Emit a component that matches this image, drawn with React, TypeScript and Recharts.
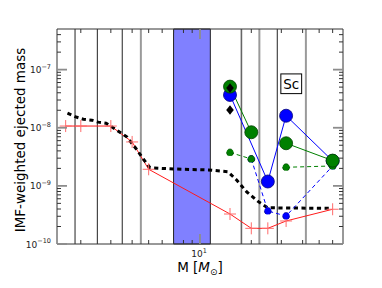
import React from "react";
import {
  ComposedChart,
  Line,
  Scatter,
  XAxis,
  YAxis,
  ReferenceLine,
  ReferenceArea,
  ReferenceDot,
} from "recharts";

// axis ranges and ticks
const X_DOMAIN = [1.45, 69];
const Y_DOMAIN = [1e-10, 5e-7];
const X_MAJOR = [10];
const X_MAJOR_EXP = ["1"];
const X_MINOR = [2, 3, 4, 5, 6, 7, 8, 9, 20, 30, 40, 50, 60];
const Y_MAJOR = [1e-10, 1e-9, 1e-8, 1e-7];
const Y_MAJOR_EXP = ["\u221210", "\u22129", "\u22128", "\u22127"];
const Y_MINOR = [
  2e-10, 3e-10, 4e-10, 5e-10, 6e-10, 7e-10, 8e-10, 9e-10,
  2e-9, 3e-9, 4e-9, 5e-9, 6e-9, 7e-9, 8e-9, 9e-9,
  2e-8, 3e-8, 4e-8, 5e-8, 6e-8, 7e-8, 8e-8, 9e-8,
  2e-7, 3e-7, 4e-7,
];

// mass bin boundaries
const EDGES_DARK = [1.85, 2.5, 3.5, 28.4];
const EDGES_GRAY = [4.5, 22.3, 41.8];
const EDGES_MID = [17.5];
const SPAN = [7, 11.5];

// red: yields with + markers
const RED_M = [1.63, 2, 3, 4, 5, 15, 20, 25, 32, 60];
const RED_V = [1.07e-8, 1.07e-8, 1.07e-8, 5.7e-9, 1.93e-9, 3.28e-10, 1.86e-10, 1.86e-10, 2.49e-10, 3.96e-10];

// black dashed curve
const BLACK_M = [1.67, 1.85, 2.07, 2.32, 2.53, 2.81, 3.03, 3.72, 4.21, 4.65, 5.09, 7, 11.2, 14.6, 16.4, 18.8, 22, 24.9, 59.5];
const BLACK_V = [1.78e-8, 1.55e-8, 1.4e-8, 1.35e-8, 1.25e-8, 1.2e-8, 1.04e-8, 7.0e-9, 4.4e-9, 2.9e-9, 2.05e-9, 1.95e-9, 1.88e-9, 1.75e-9, 1.26e-9, 7.9e-10, 5.35e-10, 4.2e-10, 4.1e-10];

// massive star models
const MODEL_M = [15, 20, 25, 32, 60];
const GREEN_BIG = [5.1e-8, 8.37e-9, null, 5.41e-9, 2.72e-9];
const GREEN_SMALL = [3.76e-9, 2.9e-9, null, 2.09e-9, 2.2e-9];
const BLUE_BIG = [3.67e-8, null, 1.19e-9, 1.61e-8, 2.69e-9];
const BLUE_SMALL = [null, 2.9e-9, 3.7e-10, 3.03e-10, 2.2e-9];
const DIAMOND_M = [15, 15];
const DIAMOND_V = [4.84e-8, 2.02e-8];

const ELEMENT = "Sc";
const LABEL_M = 34.3;
const LABEL_V = 5.7e-8;

const FONT = "DejaVu Sans, Verdana, sans-serif";

const rows = (ms: number[], vs: (number | null)[]) =>
  ms.map((m, i) => ({ m, v: vs[i] }));

function tickMark(x: number, y: number, dx: number, dy: number, major: boolean) {
  const len = major ? 10 : 4;
  return (
    <line
      x1={x}
      y1={y}
      x2={x + dx * len}
      y2={y + dy * len}
      stroke={major ? "#8c8c8c" : "#333"}
      strokeWidth={major ? 1.8 : 1}
    />
  );
}

function BottomTick(props: any) {
  const { x, y, payload } = props;
  const i = X_MAJOR.indexOf(payload.value);
  return (
    <g>
      {tickMark(x, y, 0, -1, i >= 0)}
      {i >= 0 && (
        <text x={x - 1} y={y + 12.5} textAnchor="middle" fontSize={9} fontFamily={FONT} fill="#222">
          10
          <tspan dy={-4} fontSize={6.5}>{X_MAJOR_EXP[i]}</tspan>
        </text>
      )}
    </g>
  );
}

function TopTick(props: any) {
  const { x, y, payload } = props;
  return <g>{tickMark(x, y, 0, 1, X_MAJOR.includes(payload.value))}</g>;
}

function LeftTick(props: any) {
  const { x, y, payload } = props;
  const i = Y_MAJOR.indexOf(payload.value);
  return (
    <g>
      {tickMark(x, y, 1, 0, i >= 0)}
      {i >= 0 && (
        <text x={x - 6} y={y + 3.5} textAnchor="end" fontSize={9} fontFamily={FONT} fill="#222">
          10
          <tspan dy={-4.5} fontSize={6.5}>{Y_MAJOR_EXP[i]}</tspan>
        </text>
      )}
    </g>
  );
}

function RightTick(props: any) {
  const { x, y, payload } = props;
  return <g>{tickMark(x, y, -1, 0, Y_MAJOR.includes(payload.value))}</g>;
}

function Plus(props: any) {
  const { cx, cy, index } = props;
  if (cx == null || cy == null) return <g key={index} />;
  return (
    <path
      key={index}
      d={`M${cx - 6},${cy}h12M${cx},${cy - 6}v12`}
      stroke="#ff6b6b"
      strokeWidth={1}
      fill="none"
    />
  );
}

function Diamond(props: any) {
  const { cx, cy } = props;
  return (
    <polygon
      points={`${cx},${cy - 4.8} ${cx + 3.8},${cy} ${cx},${cy + 4.8} ${cx - 3.8},${cy}`}
      fill="#000"
    />
  );
}

function ElementBox(props: any) {
  const { cx, cy } = props;
  return (
    <g>
      <rect x={cx - 10.4} y={cy - 9.9} width={20.8} height={19.7} fill="#fff" stroke="#000" strokeWidth={1} />
      <text x={cx} y={cy + 5} textAnchor="middle" fontSize={13.5} fontFamily={FONT} fill="#000">
        {ELEMENT}
      </text>
    </g>
  );
}

const allY = [...Y_MAJOR, ...Y_MINOR].sort((a, b) => a - b);
const allX = [...X_MINOR, ...X_MAJOR].sort((a, b) => a - b);

const bigDot = (fill: string, stroke: string) => ({ r: 6.5, fill, stroke, strokeWidth: 0.8 });
const smallDot = (fill: string, stroke: string) => ({ r: 3.5, fill, stroke, strokeWidth: 0.6 });

export default function App() {
  const ax = { xAxisId: "b", yAxisId: "l" };
  return (
    <div style={{ width: 366, height: 272 }}>
      <ComposedChart width={366} height={272} margin={{ top: 20, right: 30, bottom: 35, left: 48 }}>
        <ReferenceArea {...ax} x1={SPAN[0]} x2={SPAN[1]} fill="#8080ff" fillOpacity={1} stroke="#222" strokeWidth={1} />
        {EDGES_DARK.map((m) => (
          <ReferenceLine key={"d" + m} {...ax} x={m} stroke="#222" strokeWidth={1} />
        ))}
        {EDGES_MID.map((m) => (
          <ReferenceLine key={"m" + m} {...ax} x={m} stroke="#666" strokeWidth={1.6} />
        ))}
        {EDGES_GRAY.map((m) => (
          <ReferenceLine key={"g" + m} {...ax} x={m} stroke="#9a9a9a" strokeWidth={2} />
        ))}

        <XAxis
          xAxisId="b"
          dataKey="m"
          type="number"
          scale="log"
          domain={X_DOMAIN}
          allowDataOverflow
          ticks={allX}
          interval={0}
          tickSize={0}
          tickMargin={0}
          height={1}
          tick={<BottomTick />}
          axisLine={{ stroke: "#333" }}
        />
        <XAxis
          xAxisId="t"
          orientation="top"
          dataKey="m"
          type="number"
          scale="log"
          domain={X_DOMAIN}
          allowDataOverflow
          ticks={allX}
          interval={0}
          tickSize={0}
          tickMargin={0}
          height={1}
          tick={<TopTick />}
          axisLine={{ stroke: "#333" }}
        />
        <YAxis
          yAxisId="l"
          dataKey="v"
          type="number"
          scale="log"
          domain={Y_DOMAIN}
          allowDataOverflow
          ticks={allY}
          interval={0}
          tickSize={0}
          tickMargin={0}
          width={1}
          tick={<LeftTick />}
          axisLine={{ stroke: "#333" }}
        />
        <YAxis
          yAxisId="r"
          orientation="right"
          dataKey="v"
          type="number"
          scale="log"
          domain={Y_DOMAIN}
          allowDataOverflow
          ticks={allY}
          interval={0}
          tickSize={0}
          tickMargin={0}
          width={1}
          tick={<RightTick />}
          axisLine={{ stroke: "#333" }}
        />

        <Line
          {...ax}
          data={rows(RED_M, RED_V)}
          dataKey="v"
          type="linear"
          stroke="#ff1a1a"
          strokeWidth={1}
          dot={<Plus />}
          activeDot={false}
          isAnimationActive={false}
        />
        <Line
          {...ax}
          data={rows(BLACK_M, BLACK_V)}
          dataKey="v"
          type="linear"
          stroke="#000"
          strokeWidth={3}
          strokeDasharray="4.2 3.5"
          dot={false}
          activeDot={false}
          isAnimationActive={false}
        />
        <Line
          {...ax}
          data={rows(MODEL_M, BLUE_SMALL)}
          dataKey="v"
          type="linear"
          stroke="#0000ff"
          strokeWidth={1}
          strokeDasharray="4 3"
          connectNulls
          dot={smallDot("#0000ff", "#00007a")}
          activeDot={false}
          isAnimationActive={false}
        />
        <Line
          {...ax}
          data={rows(MODEL_M, BLUE_BIG)}
          dataKey="v"
          type="linear"
          stroke="#0000ff"
          strokeWidth={1}
          connectNulls
          dot={bigDot("#0000ff", "#00007a")}
          activeDot={false}
          isAnimationActive={false}
        />
        <Line
          {...ax}
          data={rows(MODEL_M, GREEN_SMALL)}
          dataKey="v"
          type="linear"
          stroke="#008000"
          strokeWidth={1}
          strokeDasharray="4 3"
          dot={smallDot("#008000", "#004000")}
          activeDot={false}
          isAnimationActive={false}
        />
        <Line
          {...ax}
          data={rows(MODEL_M, GREEN_BIG)}
          dataKey="v"
          type="linear"
          stroke="#008000"
          strokeWidth={1}
          dot={bigDot("#008000", "#004000")}
          activeDot={false}
          isAnimationActive={false}
        />
        <Scatter
          {...ax}
          data={rows(DIAMOND_M, DIAMOND_V)}
          dataKey="v"
          shape={<Diamond />}
          isAnimationActive={false}
        />
        <ReferenceDot {...ax} x={LABEL_M} y={LABEL_V} r={0} shape={<ElementBox />} />

        <text
          x={17}
          y={132}
          transform="rotate(-90, 17, 132)"
          textAnchor="middle"
          fontSize={13.5}
          fontFamily={FONT}
          fill="#000"
        >
          IMF-weighted ejected mass
        </text>
        <text x={192} y={264} textAnchor="middle" fontSize={13.5} fontFamily={FONT} fill="#000">
          M [<tspan fontStyle="italic">M</tspan>
          <tspan fontSize={9} dy={3}>{"\u2299"}</tspan>
          <tspan dy={-3}>]</tspan>
        </text>
      </ComposedChart>
    </div>
  );
}
